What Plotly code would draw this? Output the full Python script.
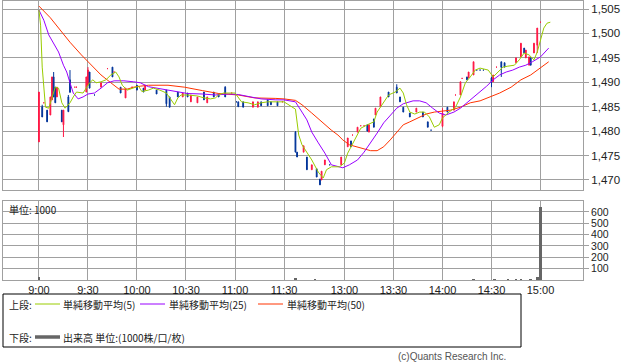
import plotly.graph_objects as go

# ---------------- data ----------------
candle_time = ["9:00","9:02","9:03","9:05","9:07","9:08","9:09","9:10","9:11","9:14","9:15","9:18","9:19",
               "9:22","9:23","9:29","9:30","9:31","9:34","9:38","9:42","9:45","9:46","9:50","9:53","9:57",
               "10:00","10:04","10:05","10:12","10:18","10:20","10:25","10:28","10:31","10:33","10:37","10:41",
               "10:43","10:47","10:50","10:54","10:58","11:01","11:02","11:05","11:11","11:14","11:16","11:20",
               "11:22","11:26","11:29",
               "12:30","12:31","12:35","12:37","12:40","12:43","12:45","12:46","12:48","12:51","12:58",
               "13:02","13:04","13:05","13:08","13:10","13:12","13:14","13:15","13:18","13:19","13:22","13:27",
               "13:32","13:34","13:36","13:40","13:44","13:48","13:51","13:53",
               "14:00","14:03","14:07","14:08","14:11","14:12","14:15","14:16","14:19","14:21","14:23","14:25",
               "14:30","14:31","14:33","14:36","14:38","14:45","14:48","14:50","14:51","14:53","14:54","14:56",
               "14:58","15:00"]
candle_open = [1477.8,1485.0,1485.8,1484.3,1483.3,1486.4,1491.1,1489.0,1487.0,1484.3,1481.3,1487.0,1490.5,
               1489.0,1489.0,1488.0,1489.4,1492.1,1487.4,1489.0,1492.8,1493.1,1492.1,1489.0,1486.8,1489.0,
               1489.4,1488.8,1488.4,1488.4,1488.4,1487.0,1488.0,1487.0,1487.8,1486.0,1485.8,1488.0,
               1485.8,1488.0,1487.6,1489.0,1487.8,1486.0,1486.0,1486.0,1484.9,1484.9,1486.0,1486.4,
               1486.0,1486.0,1486.0,
               1479.8,1475.7,1475.7,1474.7,1472.1,1472.3,1470.2,1470.0,1473.1,1473.1,1473.1,
               1476.8,1478.0,1479.2,1479.8,1481.1,1481.1,1481.3,1479.8,1482.5,1483.3,1485.0,1488.0,
               1489.0,1487.0,1484.9,1483.7,1483.9,1483.9,1481.9,1480.2,
               1481.0,1484.9,1484.3,1487.4,1487.4,1490.8,1491.1,1490.9,1491.5,1492.5,1492.5,1492.5,
               1490.9,1490.1,1493.1,1494.2,1494.0,1494.0,1495.2,1497.0,1495.0,1493.5,1495.0,1496.0,
               1497.6,1502.3]
candle_high = [1488.0,1485.4,1485.8,1484.3,1487.0,1491.1,1492.1,1489.0,1489.0,1484.3,1484.3,1487.4,1492.5,
               1489.0,1489.0,1491.1,1493.1,1492.1,1487.4,1489.9,1492.8,1493.1,1492.1,1489.0,1488.8,1489.0,
               1489.4,1488.8,1489.4,1488.4,1488.4,1487.0,1488.0,1487.8,1487.8,1487.4,1487.0,1488.0,
               1487.0,1488.0,1487.6,1489.2,1487.8,1486.0,1486.0,1486.0,1486.0,1486.0,1486.0,1486.4,
               1486.0,1486.0,1486.0,
               1480.0,1475.7,1477.0,1474.7,1473.1,1472.3,1470.2,1471.8,1474.1,1473.1,1474.7,
               1478.6,1478.0,1479.2,1480.8,1481.1,1481.1,1481.3,1481.3,1482.5,1484.7,1487.0,1488.0,
               1489.6,1487.0,1484.9,1483.7,1484.7,1483.9,1481.9,1480.2,
               1484.7,1484.9,1486.0,1487.4,1490.1,1490.8,1491.1,1492.1,1494.2,1492.5,1492.5,1492.5,
               1491.1,1491.5,1493.1,1494.2,1494.0,1495.0,1498.0,1497.0,1496.6,1495.2,1495.0,1498.0,
               1501.1,1502.3]
candle_low = [1477.8,1482.9,1485.8,1481.9,1483.3,1486.4,1487.0,1485.8,1487.0,1481.9,1478.8,1483.9,1487.8,
              1489.0,1489.0,1488.0,1489.4,1488.8,1487.4,1489.0,1492.8,1491.1,1492.1,1487.8,1486.8,1489.0,
              1488.4,1488.0,1488.4,1487.6,1485.0,1484.9,1487.0,1487.0,1487.0,1486.0,1485.8,1486.4,
              1485.8,1487.0,1487.0,1487.0,1487.8,1486.0,1485.0,1484.9,1484.9,1484.9,1485.2,1485.2,
              1485.4,1485.2,1486.0,
              1475.7,1474.7,1475.7,1472.1,1472.1,1470.6,1469.0,1470.0,1473.1,1473.1,1473.1,
              1476.8,1476.8,1479.2,1479.8,1481.1,1481.1,1480.0,1479.8,1480.8,1483.3,1485.0,1487.0,
              1487.8,1486.0,1483.9,1482.9,1483.9,1482.9,1480.8,1480.2,
              1480.8,1483.9,1484.3,1487.4,1487.4,1490.8,1490.5,1490.9,1491.5,1492.5,1492.5,1492.5,
              1489.0,1490.1,1493.1,1491.1,1493.1,1494.0,1495.2,1496.0,1495.0,1493.5,1493.5,1496.0,
              1496.0,1502.3]
candle_close = [1488.0,1482.9,1485.8,1481.9,1487.0,1491.1,1487.0,1485.8,1489.0,1481.9,1484.3,1484.0,1488.0,
                1489.0,1489.0,1491.1,1492.5,1488.8,1487.4,1489.9,1492.8,1491.1,1492.1,1487.8,1488.8,1489.0,
                1488.4,1488.0,1489.4,1487.6,1485.6,1484.9,1487.0,1487.8,1487.0,1487.4,1487.0,1486.4,
                1487.0,1487.0,1487.0,1487.0,1487.8,1486.0,1485.0,1484.9,1486.0,1486.0,1485.2,1485.2,
                1485.4,1485.2,1486.0,
                1475.7,1474.7,1477.0,1472.1,1473.1,1470.6,1469.0,1471.8,1474.1,1473.1,1474.7,
                1478.6,1476.8,1479.2,1480.8,1481.1,1481.1,1480.0,1481.3,1480.8,1484.7,1487.0,1487.0,
                1487.8,1486.0,1483.9,1482.9,1484.7,1482.9,1480.8,1480.2,
                1483.7,1483.9,1486.0,1487.4,1490.1,1490.8,1490.5,1492.1,1494.2,1492.5,1492.5,1492.5,
                1490.0,1491.5,1493.1,1493.1,1493.1,1495.0,1498.0,1496.0,1496.6,1495.2,1493.5,1498.0,
                1501.1,1502.3]

ma5_time = ["9:00","9:01","9:02","9:03","9:04","9:06","9:08","9:10","9:12","9:14","9:16","9:19","9:21","9:23",
            "9:27","9:31","9:33","9:35","9:38","9:41","9:44","9:47","9:49","9:51","9:54","9:57","10:01","10:03",
            "10:07","10:10","10:14","10:18","10:21","10:23","10:25","10:27","10:31","10:37","10:41","10:45",
            "10:48","10:50","10:53","10:57","11:00","11:04","11:08","11:12","11:16","11:20","11:26","11:30",
            "12:30","12:31","12:32","12:34","12:37","12:40","12:44","12:47","12:49","12:52","12:57","13:00",
            "13:02","13:06","13:10","13:14","13:18","13:20","13:24","13:27","13:31","13:34","13:36","13:38",
            "13:40","13:43","13:46","13:49","13:52","13:55","13:58","14:00","14:04","14:08","14:11","14:14",
            "14:17","14:20","14:23","14:28","14:31","14:34","14:37","14:40","14:44","14:47","14:50","14:53",
            "14:56","14:58","15:00","15:02","15:04","15:06"]
ma5_value = [1504.8,1501.7,1493.1,1488.4,1484.9,1484.7,1487.0,1489.0,1488.8,1485.8,1484.7,1485.8,1487.0,1488.0,
             1487.8,1489.9,1490.5,1489.9,1490.1,1490.5,1491.5,1492.1,1491.1,1489.4,1488.4,1488.8,1489.2,1488.1,
             1488.4,1488.8,1488.4,1487.8,1486.4,1485.4,1486.8,1487.4,1487.4,1487.2,1486.8,1486.6,
             1486.8,1487.4,1487.8,1487.8,1487.8,1486.0,1485.8,1485.4,1485.8,1486.0,1486.0,1486.0,
             1484.5,1481.7,1479.2,1477.2,1475.7,1474.1,1471.6,1470.4,1472.1,1472.7,1472.7,1473.5,
             1475.5,1478.2,1480.6,1481.3,1481.9,1483.9,1486.0,1487.4,1488.0,1488.8,1487.8,1485.4,
             1483.9,1483.5,1483.9,1483.9,1482.9,1480.8,1481.3,1482.7,1483.9,1484.9,1487.0,1489.9,
             1491.1,1492.5,1492.9,1492.5,1491.1,1492.1,1493.1,1493.3,1493.5,1494.6,1496.0,1495.6,
             1494.6,1496.2,1498.7,1501.1,1502.1,1502.3]

ma25_time = ["9:00","9:03","9:06","9:09","9:12","9:15","9:17","9:19","9:21","9:24","9:27","9:30","9:34","9:38",
             "9:42","9:46","9:52","9:58","10:02","10:07","10:15","10:23","10:31","10:40","10:48","10:56","11:02",
             "11:08","11:16","11:25","11:30",
             "12:30","12:31","12:34","12:37","12:40","12:44","12:48","12:52","12:56","12:59","13:03","13:08",
             "13:12","13:16","13:20","13:24","13:28","13:32","13:36","13:42","13:46","13:50","13:54","13:58",
             "14:02","14:07","14:11","14:15","14:19","14:23","14:27","14:31","14:35","14:39","14:43","14:47",
             "14:51","14:55","15:00","15:05"]
ma25_value = [1504.8,1502.7,1499.7,1498.0,1496.2,1493.5,1492.1,1489.9,1487.8,1486.6,1487.0,1487.6,1487.8,1488.8,
              1489.9,1490.3,1490.3,1490.1,1489.9,1489.1,1488.6,1488.1,1487.7,1487.6,1487.4,1487.6,1487.5,
              1487.1,1486.6,1486.4,1486.4,
              1486.0,1485.4,1483.9,1482.3,1479.8,1477.6,1475.5,1473.1,1472.7,1472.5,1473.1,1474.1,
              1475.7,1477.6,1479.6,1481.7,1483.3,1484.7,1485.6,1486.2,1486.2,1485.8,1484.7,1483.7,
              1483.3,1483.9,1484.7,1485.8,1487.0,1488.2,1489.2,1490.5,1491.5,1492.1,1492.5,1493.1,
              1493.5,1494.2,1495.2,1497.0]

ma50_time = ["9:00","9:07","9:13","9:19","9:26","9:32","9:38","9:44","9:49","9:54","9:58","10:02","10:07",
             "10:19","10:29","10:40","10:50","11:02","11:12","11:25","11:30",
             "12:30","12:34","12:40","12:46","12:52","12:56","12:59","13:03","13:10","13:16","13:20","13:24",
             "13:28","13:32","13:36","13:40","13:45","13:50","13:55","14:02","14:05","14:11","14:17","14:23",
             "14:29","14:35","14:42","14:48","14:54","15:00","15:05"]
ma50_value = [1505.6,1503.2,1500.7,1498.2,1495.6,1493.5,1491.5,1489.9,1488.6,1488.6,1489.0,1489.2,1489.4,
              1489.4,1489.0,1488.3,1487.7,1487.4,1486.8,1486.7,1486.6,
              1486.3,1485.4,1483.7,1481.9,1480.2,1479.2,1478.2,1477.2,1476.6,1476.0,1476.0,1476.8,
              1478.2,1479.8,1481.3,1481.9,1482.7,1483.5,1483.9,1484.1,1484.3,1484.9,1485.8,1486.2,
              1487.0,1487.8,1489.0,1490.5,1491.5,1492.9,1494.2]

volume_time = ["9:00","12:30","12:42","14:19","14:32","14:40","14:45","14:48","14:54","14:58","15:00"]
volume_value = [25, 20, 10, 8, 8, 8, 10, 10, 10, 30, 647]

tick_labels = ["9:00","9:30","10:00","10:30","11:00","11:30","13:00","13:30","14:00","14:30","15:00"]
price_ticks = [1470, 1475, 1480, 1485, 1490, 1495, 1500, 1505]
volume_ticks = [100, 200, 300, 400, 500, 600]

# ---------------- helpers ----------------
def slot(t):
    """Trading-time axis position; lunch break compressed."""
    h, m = map(int, t.split(":"))
    mins = h * 60 + m
    if mins <= 11 * 60 + 30:
        return mins - 9 * 60
    return 157 + (mins - (12 * 60 + 30))

W, H = 638, 362
def px(x):
    return x / W
def py(y):
    return 1 - y / H

RED = "#ff1744"
BLUE = "#003399"
GRID = "#a0a0a0"
TICKFONT = dict(family="Liberation Sans, Arial, sans-serif", size=11.5, color="#222")
JP = "Noto Sans CJK JP"

fig = go.Figure()

fig.add_trace(go.Candlestick(
    x=[slot(t) for t in candle_time], open=candle_open, high=candle_high,
    low=candle_low, close=candle_close,
    increasing=dict(line=dict(color=RED, width=1), fillcolor=RED),
    decreasing=dict(line=dict(color=BLUE, width=1), fillcolor=BLUE),
    whiskerwidth=0, showlegend=False, hoverinfo="skip", xaxis="x", yaxis="y"))

for tt, vv, col in [(ma50_time, ma50_value, "#ff3300"),
                    (ma25_time, ma25_value, "#9900ff"),
                    (ma5_time, ma5_value, "#99cc00")]:
    fig.add_trace(go.Scatter(x=[slot(t) for t in tt], y=vv, mode="lines",
                             line=dict(color=col, width=1), showlegend=False,
                             hoverinfo="skip", xaxis="x", yaxis="y"))

fig.add_trace(go.Bar(x=[slot(t) for t in volume_time], y=volume_value,
                     marker=dict(color="#666666", line=dict(width=0)), width=1.6,
                     showlegend=False, hoverinfo="skip", xaxis="x2", yaxis="y2"))

xr = [-22, 333]
xdom = [px(3), px(583)]
tickpos = [slot(t) for t in tick_labels]

common_x = dict(range=xr, domain=xdom, tickmode="array", tickvals=tickpos,
                showgrid=True, gridcolor=GRID, gridwidth=1, zeroline=False,
                showline=True, mirror=True, linecolor=GRID, linewidth=1,
                fixedrange=True)

fig.update_layout(
    width=W, height=H, margin=dict(l=0, r=0, t=0, b=0),
    paper_bgcolor="white", plot_bgcolor="white",
    showlegend=False,
    xaxis=dict(**common_x, anchor="y", showticklabels=False, ticks="",
               rangeslider=dict(visible=False)),
    yaxis=dict(domain=[py(190), py(1)], range=[1467.95, 1506.64], side="right",
               tickmode="array", tickvals=price_ticks, tickformat=",d",
               ticks="outside", ticklen=5, tickcolor=GRID, tickfont=TICKFONT,
               showgrid=True, gridcolor=GRID, zeroline=False,
               showline=True, mirror=True, linecolor=GRID, anchor="x"),
    xaxis2=dict(**common_x, anchor="y2", ticktext=tick_labels, ticks="",
                tickfont=dict(family="Liberation Sans, Arial, sans-serif", size=11, color="#222")),
    yaxis2=dict(domain=[py(280), py(201)], range=[0, 696], side="right",
                tickmode="array", tickvals=volume_ticks,
                ticks="outside", ticklen=5, tickcolor=GRID,
                tickfont=dict(family="Liberation Sans, Arial, sans-serif", size=10.5, color="#222"),
                showgrid=True, gridcolor=GRID, zeroline=False,
                showline=True, mirror=True, linecolor=GRID, anchor="x2"),
    bargap=0,
)

shapes = [
    dict(type="rect", xref="paper", yref="paper", x0=px(3), x1=px(521), y0=py(347), y1=py(294),
         line=dict(color="#000", width=1)),
    dict(type="line", xref="paper", yref="paper", x0=px(35), x1=px(60), y0=py(304), y1=py(304),
         line=dict(color="#99cc00", width=1)),
    dict(type="line", xref="paper", yref="paper", x0=px(140), x1=px(165), y0=py(304), y1=py(304),
         line=dict(color="#9900ff", width=1)),
    dict(type="line", xref="paper", yref="paper", x0=px(258), x1=px(283), y0=py(304), y1=py(304),
         line=dict(color="#ff3300", width=1)),
    dict(type="line", xref="paper", yref="paper", x0=px(35), x1=px(60), y0=py(337), y1=py(337),
         line=dict(color="#666666", width=3.5)),
]
fig.update_layout(shapes=shapes)

def ann(x, y, text, size=10, family=JP, color="#222", anchor="left"):
    return dict(x=px(x), y=py(y), xref="paper", yref="paper", text=text, showarrow=False,
                xanchor=anchor, yanchor="middle", font=dict(family=family, size=size, color=color),
                borderpad=0)

fig.update_layout(annotations=[
    ann(8, 209, "単位: 1000"),
    ann(8, 304, "上段:"),
    ann(62, 304, "単純移動平均(5)"),
    ann(168, 304, "単純移動平均(25)"),
    ann(286, 304, "単純移動平均(50)"),
    ann(8, 337, "下段:"),
    ann(62, 337, "出来高 単位:(1000株/口/枚)"),
    ann(507, 356, "(c)Quants Research Inc.", size=10,
        family="Liberation Sans, Arial, sans-serif", color="#555", anchor="right"),
])

fig.write_html("out.html", config={"displayModeBar": False, "staticPlot": True},
               post_script="document.body.style.margin='0px';document.body.style.overflow='hidden';")
